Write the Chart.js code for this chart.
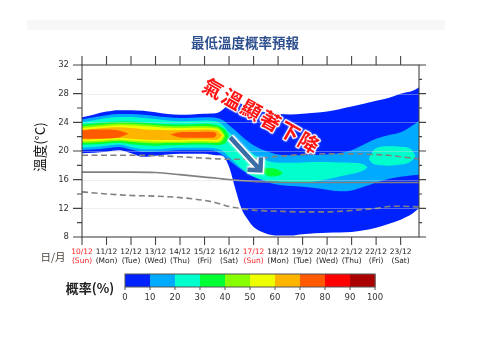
<!DOCTYPE html>
<html>
<head>
<meta charset="utf-8">
<script src="https://cdn.jsdelivr.net/npm/chart.js@4"></script>
<style>
  body { margin: 0; background: #fff; }
  #contenedor { width: 480px; height: 342px; position: relative; }
</style>
</head>
<body>
<div id="contenedor"><canvas id="graficoTemp"></canvas></div>
<script>
// EJE X (días)
const fechas = ['10/12','11/12','12/12','13/12','14/12','15/12','16/12','17/12','18/12','19/12','20/12','21/12','22/12','23/12'];
const semana = ['Sun','Mon','Tue','Wed','Thu','Fri','Sat','Sun','Mon','Tue','Wed','Thu','Fri','Sat'];

// Colores de probabilidad (0-10, 10-20, ... 90-100)
const escalaProb = [0, 10, 20, 30, 40, 50, 60, 70, 80, 90, 100];
const coloresNivel = ['#0022ff','#00aaff','#00ffcc','#00ff33','#88ff00','#eeff00','#ffb400','#ff5a00','#ff0000','#aa0000'];

// Climatología (líneas grises)
const climaX     = [0, 1, 2, 3, 4, 5, 5.5, 6, 7, 8, 9, 10, 11, 12, 12.5, 13, 13.75];
const climaAlta  = [19.4, 19.4, 19.4, 19.35, 19.2, 19.0, 18.9, 18.85, 18.9, 19.25, 19.5, 19.6, 19.6, 19.5, 19.4, 19.2, 18.9];
const climaMedia = [17.05, 17.05, 17.05, 17.0, 16.7, 16.35, 16.2, 16.0, 15.75, 15.65, 15.6, 15.6, 15.6, 15.6, 15.6, 15.6, 15.6];
const climaBaja  = [14.3, 14.0, 13.8, 13.7, 13.5, 13.1, 12.75, 12.25, 11.75, 11.6, 11.5, 11.5, 11.7, 12.0, 12.25, 12.3, 12.2];

// Zonas de probabilidad: límite superior e inferior (°C)
// > 0 %
const nivel0X   = [0, 0.5, 1, 1.5, 2, 2.5, 3, 3.5, 4, 4.5, 5, 5.5, 5.75, 6, 6.25, 6.5, 6.75, 7, 7.5, 8, 8.5, 9, 10, 11, 12, 12.5, 13, 13.5, 13.75];
const nivel0Sup = [24.7, 25.1, 25.5, 25.7, 25.7, 25.6, 25.4, 25.15, 25.05, 25.1, 25.2, 25.3, 25.8, 26.6, 26.8, 26.6, 26.2, 25.8, 25.4, 25.2, 25.1, 25.2, 25.5, 26.2, 27.0, 27.4, 28.0, 28.4, 28.9];
const nivel0Inf = [19.7, 19.75, 19.9, 20.1, 19.7, 19.2, 19.35, 19.5, 19.6, 19.6, 19.6, 19.4, 19.3, 17.8, 14.8, 12.0, 10.5, 9.4, 8.5, 8.2, 8.2, 8.4, 8.6, 8.7, 9.3, 9.8, 10.4, 11.3, 12.0];
// > 10 %
const nivel1X   = [0, 0.5, 1, 1.5, 2, 2.5, 3, 3.5, 4, 4.5, 5, 5.5, 5.75, 6, 6.25, 6.5, 6.75, 7, 7.5, 8, 8.5, 9, 10, 10.5, 11, 11.5, 12, 12.5, 13, 13.5, 13.75];
const nivel1Sup = [24.4, 24.7, 25.0, 25.15, 25.15, 25.05, 24.9, 24.7, 24.6, 24.65, 24.7, 24.6, 24.3, 23.6, 22.9, 22.1, 21.4, 20.8, 20.0, 19.5, 19.4, 19.4, 19.5, 19.7, 20.1, 20.9, 21.7, 22.2, 22.6, 23.6, 24.2];
const nivel1Inf = [20.15, 20.2, 20.4, 20.55, 20.2, 19.85, 19.9, 20.0, 20.1, 20.1, 20.1, 19.9, 19.4, 18.7, 18.0, 17.4, 16.9, 16.4, 15.7, 15.3, 15.1, 15.0, 14.6, 14.4, 14.5, 15.0, 15.6, 16.1, 16.4, 16.6, 16.7];
// > 20 % (dos zonas)
const nivel2aX   = [0, 0.5, 1, 1.5, 2, 2.5, 3, 3.5, 4, 4.5, 5, 5.5, 5.75, 6, 6.25, 6.5, 6.75, 7, 7.5, 8, 8.5, 9, 9.5, 10, 10.5, 11, 11.5, 11.65];
const nivel2aSup = [24.0, 24.3, 24.6, 24.75, 24.75, 24.6, 24.45, 24.25, 24.15, 24.2, 24.25, 24.1, 23.6, 22.6, 21.8, 21.0, 20.2, 19.5, 18.7, 18.35, 18.35, 18.4, 18.45, 18.45, 18.4, 18.35, 18.1, 17.7];
const nivel2aInf = [20.5, 20.55, 20.75, 20.9, 20.55, 20.25, 20.25, 20.35, 20.45, 20.45, 20.45, 20.3, 20.0, 19.2, 18.4, 17.6, 16.9, 16.4, 15.9, 15.7, 15.6, 15.6, 15.75, 16.05, 16.45, 16.8, 17.3, 17.7];
const nivel2bX   = [11.7, 11.85, 12, 12.5, 13, 13.4, 13.6];
const nivel2bSup = [18.9, 19.9, 20.4, 20.65, 20.6, 20.3, 19.4];
const nivel2bInf = [18.9, 18.3, 18.1, 17.95, 18.1, 18.5, 19.2];
// > 30 % (dos zonas)
const nivel3aX   = [0, 0.5, 1, 1.5, 2, 2.5, 3, 3.5, 4, 4.5, 5, 5.5, 5.75, 5.9, 6.0];
const nivel3aSup = [23.7, 23.85, 24.0, 24.1, 24.1, 23.95, 23.85, 23.75, 23.7, 23.75, 23.8, 23.6, 23.2, 22.7, 22.0];
const nivel3aInf = [20.9, 20.95, 21.05, 21.15, 20.95, 20.8, 20.75, 20.8, 20.85, 20.9, 20.9, 20.8, 20.95, 21.3, 22.0];
const nivel3bX   = [7.35, 7.5, 7.75, 8.0, 8.2];
const nivel3bSup = [17.4, 17.6, 17.6, 17.4, 16.95];
const nivel3bInf = [17.3, 16.7, 16.45, 16.5, 16.95];
// > 40 %
const nivel4X   = [0, 0.5, 1, 1.5, 2, 2.5, 3, 3.5, 4, 4.5, 5, 5.5, 5.7, 5.85];
const nivel4Sup = [23.45, 23.6, 23.75, 23.85, 23.8, 23.7, 23.6, 23.5, 23.45, 23.5, 23.5, 23.35, 22.9, 22.1];
const nivel4Inf = [21.15, 21.2, 21.3, 21.4, 21.25, 21.1, 21.05, 21.1, 21.1, 21.15, 21.15, 21.1, 21.3, 22.1];
// > 50 %
const nivel5X   = [0, 0.5, 1, 1.5, 2, 2.5, 3, 3.5, 4, 4.5, 5, 5.5, 5.65, 5.8];
const nivel5Sup = [23.2, 23.35, 23.5, 23.6, 23.55, 23.45, 23.35, 23.25, 23.2, 23.25, 23.25, 23.1, 22.75, 22.15];
const nivel5Inf = [21.35, 21.4, 21.5, 21.6, 21.45, 21.35, 21.3, 21.3, 21.3, 21.35, 21.35, 21.3, 21.5, 22.15];
// > 60 %
const nivel6X   = [0, 0.5, 1, 1.5, 2, 2.5, 3, 3.5, 4, 4.5, 5, 5.5, 5.6, 5.72];
const nivel6Sup = [23.0, 23.1, 23.25, 23.3, 23.2, 23.05, 22.95, 22.9, 22.9, 22.95, 23.0, 22.85, 22.6, 22.2];
const nivel6Inf = [21.6, 21.65, 21.75, 21.8, 21.7, 21.6, 21.55, 21.55, 21.55, 21.6, 21.6, 21.55, 21.7, 22.2];
// > 70 % (dos zonas)
const nivel7aX   = [0, 0.5, 1, 1.5, 1.9];
const nivel7aSup = [22.85, 23.0, 23.0, 22.85, 22.4];
const nivel7aInf = [21.75, 21.7, 21.75, 21.9, 22.4];
const nivel7bX   = [3.6, 4.0, 4.5, 5.0, 5.4, 5.5];
const nivel7bSup = [22.3, 22.6, 22.65, 22.7, 22.6, 22.3];
const nivel7bInf = [22.3, 21.9, 21.85, 21.85, 21.9, 22.3];

// Esto se ejecutará cuando el DOM esté listo
addEventListener("DOMContentLoaded", () => {
    dibujarGrafico();
});

// Une x con y para Chart.js
function puntos(xs, ys){
    return xs.map((d, i) => ({ x: d, y: ys[i] }));
}

function dibujarGrafico(){

    const regiones = [
        [nivel0X, nivel0Sup, nivel0Inf, 0],
        [nivel1X, nivel1Sup, nivel1Inf, 1],
        [nivel2aX, nivel2aSup, nivel2aInf, 2],
        [nivel2bX, nivel2bSup, nivel2bInf, 2],
        [nivel3aX, nivel3aSup, nivel3aInf, 3],
        [nivel3bX, nivel3bSup, nivel3bInf, 3],
        [nivel4X, nivel4Sup, nivel4Inf, 4],
        [nivel5X, nivel5Sup, nivel5Inf, 5],
        [nivel6X, nivel6Sup, nivel6Inf, 6],
        [nivel7aX, nivel7aSup, nivel7aInf, 7],
        [nivel7bX, nivel7bSup, nivel7bInf, 7]
    ];

    const base = {
        pointRadius: 0,
        borderWidth: 0,
        borderColor: 'transparent',
        cubicInterpolationMode: 'monotone'
    };

    let datasets = [];

    // Líneas de climatología encima de todo (order 0)
    const estiloClima = { ...base, borderWidth: 1.6, borderColor: '#808080', fill: false, order: 0 };
    datasets.push({ ...estiloClima, data: puntos(climaX, climaAlta), borderDash: [6, 3.5] });
    datasets.push({ ...estiloClima, data: puntos(climaX, climaMedia) });
    datasets.push({ ...estiloClima, data: puntos(climaX, climaBaja), borderDash: [6, 3.5] });

    // Cada zona: borde superior relleno hasta el inferior
    regiones.forEach((r, i) => {
        const orden = 100 - i;
        datasets.push({ ...base, data: puntos(r[0], r[1]), fill: '+1', backgroundColor: coloresNivel[r[3]], order: orden });
        datasets.push({ ...base, data: puntos(r[0], r[2]), fill: false, order: orden });
    });

    const ctx = document.getElementById('graficoTemp').getContext('2d');

    new Chart(ctx, {
        type: 'line',
        data: { datasets: datasets },
        options: {
            responsive: true,
            maintainAspectRatio: false,
            animation: false,
            events: [],
            layout: { padding: { left: 0, right: 61, top: 65, bottom: 75 } },
            plugins: {
                legend: { display: false },
                tooltip: { enabled: false }
            },
            scales: {
                x: {
                    type: 'linear',
                    min: 0,
                    max: 13.75,
                    afterFit(s) { s.height = 30; },
                    grid: { display: false, drawTicks: false },
                    border: { display: false },
                    ticks: {
                        stepSize: 1,
                        includeBounds: false,
                        autoSkip: false,
                        maxRotation: 0,
                        padding: 11,
                        font: { family: 'DejaVu Sans', size: 7.5, lineHeight: 1.2 },
                        color: c => semana[Math.round(c.tick.value)] === 'Sun' ? '#ff1f1f' : '#222',
                        callback: v => {
                            const i = Math.round(v);
                            return [fechas[i], '(' + semana[i] + ')'];
                        }
                    }
                },
                y: {
                    min: 8,
                    max: 32,
                    afterFit(s) { s.width = 82; },
                    grid: { display: false, drawTicks: false },
                    border: { display: false },
                    ticks: {
                        stepSize: 4,
                        padding: 13,
                        font: { family: 'DejaVu Sans', size: 8.5 },
                        color: '#333'
                    }
                }
            }
        },
        plugins: [decorado]
    });
}

// Rejilla, flecha, textos, marco y barra de colores
const decorado = {
    id: 'decorado',
    afterDatasetsDraw(chart) {
        const { ctx, chartArea: a, scales: { x, y } } = chart;
        ctx.save();

        // rejilla horizontal tenue
        ctx.strokeStyle = 'rgba(215,215,215,0.4)';
        ctx.lineWidth = 1;
        [12, 16, 20, 24, 28].forEach(t => {
            const py = Math.round(y.getPixelForValue(t)) + 0.5;
            ctx.beginPath();
            ctx.moveTo(a.left, py);
            ctx.lineTo(a.right, py);
            ctx.stroke();
        });

        // flecha de descenso
        const p0 = { x: x.getPixelForValue(6.05), y: y.getPixelForValue(21.9) };
        const p1 = { x: x.getPixelForValue(7.28), y: y.getPixelForValue(17.3) };
        const ang = Math.atan2(p1.y - p0.y, p1.x - p0.x);
        const largo = 13;
        const h1 = { x: p1.x + largo * Math.cos(ang + Math.PI * 0.75), y: p1.y + largo * Math.sin(ang + Math.PI * 0.75) };
        const h2 = { x: p1.x + largo * Math.cos(ang - Math.PI * 0.75), y: p1.y + largo * Math.sin(ang - Math.PI * 0.75) };
        const trazo = () => {
            ctx.beginPath();
            ctx.moveTo(p0.x, p0.y);
            ctx.lineTo(p1.x, p1.y);
            ctx.moveTo(h1.x, h1.y);
            ctx.lineTo(p1.x, p1.y);
            ctx.lineTo(h2.x, h2.y);
            ctx.stroke();
        };
        ctx.lineJoin = 'miter';
        ctx.lineCap = 'butt';
        ctx.shadowColor = 'rgba(255,255,255,0.9)';
        ctx.shadowBlur = 3;
        ctx.strokeStyle = '#ffffff';
        ctx.lineWidth = 7.5;
        trazo();
        ctx.shadowBlur = 0;
        ctx.strokeStyle = '#3b6ea6';
        ctx.lineWidth = 4.5;
        trazo();

        // texto inclinado
        const texto = '氣溫顯著下降';
        const cx = x.getPixelForValue(7.3);
        const cy = y.getPixelForValue(24.97);
        const rot = 29.6 * Math.PI / 180;
        const paso = 22;
        ctx.font = 'bold 20px "Noto Sans CJK TC", sans-serif';
        ctx.textAlign = 'center';
        ctx.textBaseline = 'middle';
        const posiciones = [...texto].map((ch, k) => {
            const off = (k - (texto.length - 1) / 2) * paso;
            return { ch, px: cx + off * Math.cos(rot), py: cy + off * Math.sin(rot) };
        });
        // contorno blanco fino primero, luego el relleno rojo
        posiciones.forEach(p => {
            ctx.save();
            ctx.translate(p.px, p.py);
            ctx.rotate(rot);
            ctx.shadowColor = 'rgba(255,255,255,0.8)';
            ctx.shadowBlur = 2;
            ctx.strokeStyle = 'rgba(255,255,255,0.9)';
            ctx.lineWidth = 2.5;
            ctx.lineJoin = 'round';
            ctx.strokeText(p.ch, 0, 0);
            ctx.restore();
        });
        posiciones.forEach(p => {
            ctx.save();
            ctx.translate(p.px, p.py);
            ctx.rotate(rot);
            ctx.fillStyle = '#ff1414';
            ctx.fillText(p.ch, 0, 0);
            ctx.restore();
        });

        ctx.restore();
    },
    afterDraw(chart) {
        const { ctx, chartArea: a, scales: { x, y } } = chart;
        ctx.save();

        // franja gris clara superior
        ctx.fillStyle = '#f7f7f7';
        ctx.fillRect(27, 20, 418, 10);

        // marco y marcas hacia fuera
        ctx.strokeStyle = '#444';
        ctx.lineWidth = 1.1;
        ctx.strokeRect(a.left, a.top, a.right - a.left, a.bottom - a.top);
        ctx.beginPath();
        for (let d = 0; d < fechas.length; d++) {
            const px = x.getPixelForValue(d);
            ctx.moveTo(px, a.bottom); ctx.lineTo(px, a.bottom + 8);
            ctx.moveTo(px, a.top); ctx.lineTo(px, a.top - 9);
        }
        for (let t = 8; t <= 32; t += 2) {
            const py = y.getPixelForValue(t);
            const len = t % 4 === 0 ? 9 : 5;
            ctx.moveTo(a.left - len, py); ctx.lineTo(a.left, py);
            ctx.moveTo(a.right, py); ctx.lineTo(a.right + len - 2, py);
        }
        ctx.stroke();

        // títulos
        ctx.textAlign = 'center';
        ctx.textBaseline = 'middle';
        ctx.fillStyle = '#2e4f8e';
        ctx.font = 'bold 13.5px "Noto Sans CJK TC", sans-serif';
        ctx.fillText('最低溫度概率預報', 245, 43);

        ctx.save();
        ctx.translate(40, 147);
        ctx.rotate(-Math.PI / 2);
        ctx.fillStyle = '#111';
        ctx.font = '13.5px "Noto Sans CJK TC", sans-serif';
        ctx.fillText('溫度(°C)', 0, 0);
        ctx.restore();

        ctx.fillStyle = '#4d4238';
        ctx.font = '10.5px "Noto Sans CJK TC", sans-serif';
        ctx.fillText('日/月', 53, 257);

        // barra de colores
        const cbL = 125, cbR = 375, cbT = 274, cbB = 287;
        const ancho = (cbR - cbL) / coloresNivel.length;
        coloresNivel.forEach((c, i) => {
            ctx.fillStyle = c;
            ctx.fillRect(cbL + i * ancho, cbT, ancho + 0.5, cbB - cbT);
        });
        ctx.strokeStyle = '#555';
        ctx.lineWidth = 1;
        ctx.strokeRect(cbL, cbT, cbR - cbL, cbB - cbT);
        ctx.fillStyle = '#333';
        ctx.font = '8.5px "DejaVu Sans", sans-serif';
        ctx.beginPath();
        escalaProb.forEach(v => {
            const px = cbL + (cbR - cbL) * v / 100;
            ctx.moveTo(px, cbB); ctx.lineTo(px, cbB + 3);
            ctx.fillText(String(v), px, 298);
        });
        ctx.stroke();

        ctx.fillStyle = '#222';
        ctx.font = '600 13px "Noto Sans CJK TC", sans-serif';
        ctx.fillText('概率(%)', 90, 288);

        ctx.restore();
    }
};
</script>
</body>
</html>
